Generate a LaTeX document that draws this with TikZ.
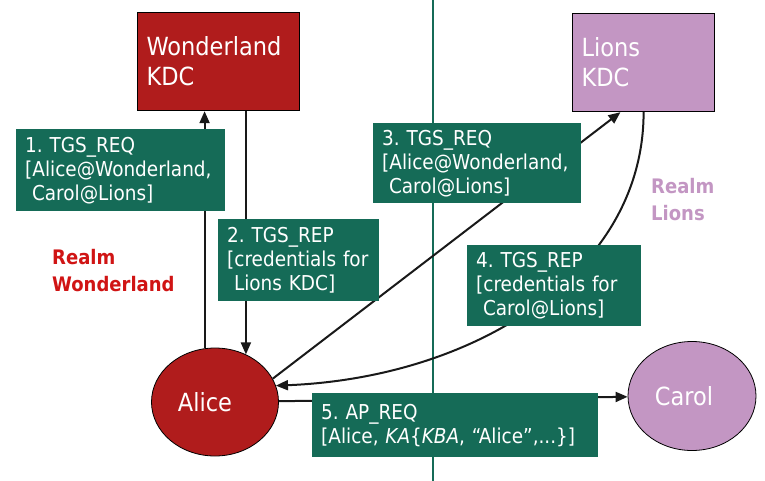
\documentclass[tikz,border=0pt]{standalone}
\usepackage{fontspec}
\setmainfont{DejaVu Sans Condensed}
\usetikzlibrary{calc}
\usetikzlibrary{arrows.meta}
\usetikzlibrary{shapes.geometric}

\definecolor{wred}{RGB}{176,28,28}
\definecolor{rred}{RGB}{208,20,20}
\definecolor{lilac}{RGB}{195,150,195}
\definecolor{kgreen}{RGB}{21,107,87}

\tikzset{
  kdc/.style={draw=black, line width=1.2pt, text=white, align=left, anchor=north west, inner xsep=9pt, font=\fontsize{25}{30}\selectfont},
  msg/.style={fill=kgreen, text=white, align=left, anchor=north west, inner xsep=9pt, font=\fontsize{20.5}{24}\selectfont},
  user/.style={ellipse, draw=black, line width=0.8pt, text=white, inner sep=0pt, font=\fontsize{25}{30}\selectfont},
  realm/.style={align=left, anchor=north west, inner sep=0pt, font=\bfseries\fontsize{20}{27}\selectfont},
  arr/.style={line width=2pt, draw=black!90, -{Triangle[length=12pt,width=10pt]}}
}

\begin{document}
\frenchspacing
\begin{tikzpicture}[x=1pt,y=-1pt]
\useasboundingbox (0,0) rectangle (765,481);

% realm border
\draw[kgreen, line width=2.5pt] (433,0) -- (433,481);

\node[kdc, fill=wred, text width=144, minimum height=98] (wkdc) at (137,12) {Wonderland\\KDC};
\node[kdc, fill=lilac, text width=124, minimum height=98] (lkdc) at (572,13) {Lions\\KDC};

\node[user, fill=wred, minimum width=127, minimum height=108] (alice) at (215,402) {Alice\hspace*{20pt}};
\node[user, fill=lilac, minimum width=128, minimum height=109] (carol) at (692,396) {Carol\hspace*{16pt}};

\node[realm, text=rred] (rwond) at (52,249) {Realm\\Wonderland};
\node[realm, text=lilac] (rlions) at (651,178) {Realm\\Lions};

% messages
\draw[arr] (alice.101) -- (alice.101 |- wkdc.south);
\draw[arr] (alice.57 |- wkdc.south) -- (alice.57);
\draw[arr] (alice.22) -- (lkdc.245);
\draw[arr] (lkdc.south) .. controls +(0,160) and +(200,-8) .. (alice.15);
\draw[arr] (alice) -- (carol);

\node[msg, text width=191, minimum height=82] (req1) at (16,129) {1. TGS\_REQ\\{}[Alice@Wonderland,\\~Carol@Lions]};
\node[msg, text width=143, minimum height=82] (rep2) at (218,219) {2. TGS\_REP\\{}[credentials for\\~Lions KDC]};
\node[msg, text width=190, minimum height=80] (req3) at (373,123) {3. TGS\_REQ\\{}[Alice@Wonderland,\\~Carol@Lions]};
\node[msg, text width=156, minimum height=81] (rep4) at (467,245) {4. TGS\_REP\\{}[credentials for\\~Carol@Lions]};
\node[msg, text width=268, minimum height=64] (apreq) at (312,393) {5. AP\_REQ\\{}[Alice, \textit{KA}\{\textit{KBA}, “Alice”,...\}]};

\end{tikzpicture}
\end{document}
